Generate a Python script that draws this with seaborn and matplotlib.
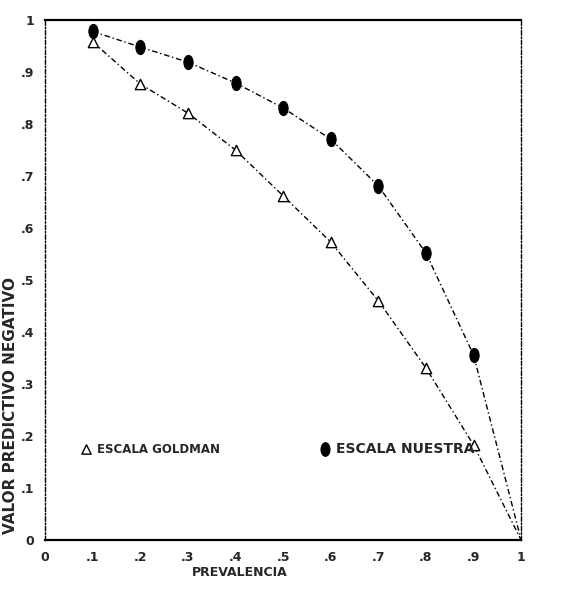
import numpy as np
import pandas as pd
import matplotlib
matplotlib.use("Agg")
import matplotlib.pyplot as plt
import seaborn as sns
from matplotlib.markers import MarkerStyle
from matplotlib.transforms import Affine2D

# data
prevalencia = [0.1, 0.2, 0.3, 0.4, 0.5, 0.6, 0.7, 0.8, 0.9, 1.0]
vpn_goldman = [0.958, 0.877, 0.821, 0.750, 0.662, 0.573, 0.460, 0.331, 0.183, 0.0]
vpn_nuestra = [0.978, 0.948, 0.919, 0.879, 0.831, 0.771, 0.681, 0.552, 0.356, 0.0]
x_ticks = [0, 0.1, 0.2, 0.3, 0.4, 0.5, 0.6, 0.7, 0.8, 0.9, 1.0]
tick_labels = ["0", ".1", ".2", ".3", ".4", ".5", ".6", ".7", ".8", ".9", "1"]

df = pd.DataFrame({
    "Prevalencia": prevalencia * 2,
    "VPN": vpn_goldman + vpn_nuestra,
    "Escala": ["Goldman"] * len(prevalencia) + ["Nuestra"] * len(prevalencia),
})

sns.set_style("white")
plt.rcParams["font.family"] = ["DejaVu Sans"]

fig = plt.figure(figsize=(5.64, 5.89), dpi=100)
ax = fig.add_axes([0.080, 0.083, 0.844, 0.883])

# dash-dot connecting lines
sns.lineplot(data=df, x="Prevalencia", y="VPN", hue="Escala",
             palette={"Goldman": "black", "Nuestra": "black"},
             legend=False, ax=ax, linewidth=1.0)
for ln in ax.get_lines():
    ln.set_dashes([4, 2, 1, 2])

# markers (last point at 1.0 has none)
gold = df[(df.Escala == "Goldman") & (df.Prevalencia < 1)]
nues = df[(df.Escala == "Nuestra") & (df.Prevalencia < 1)]
sns.scatterplot(data=gold, x="Prevalencia", y="VPN", marker="^", s=55,
                facecolor="white", edgecolor="black", linewidth=1.0, ax=ax, zorder=3)
sns.scatterplot(data=nues, x="Prevalencia", y="VPN", marker="o", s=80,
                color="black", edgecolor="black", ax=ax, zorder=3)
# tall ellipses like the original plotter dots
m = MarkerStyle("o")
tall = m.get_path().transformed(m.get_transform() + Affine2D().scale(0.75, 1.15))
ax.collections[-1].set_paths([tall])

ax.set_xlim(0, 1)
ax.set_ylim(0, 1)
ax.set_xticks(x_ticks)
ax.set_xticklabels(tick_labels, fontsize=9, fontweight="bold")
ax.set_yticks(x_ticks)
ax.set_yticklabels(tick_labels, fontsize=9, fontweight="bold")
ax.tick_params(axis="both", direction="in", length=4, width=0.8, color="black", pad=8)
ax.set_xlabel("")
ax.set_ylabel("")

for side in ["top", "bottom"]:
    ax.spines[side].set_linewidth(1.6)
    ax.spines[side].set_color("black")
for side in ["left", "right"]:
    ax.spines[side].set_linewidth(1.0)
    ax.spines[side].set_color("black")
    ax.spines[side].set_linestyle((0, (3, 1.5, 1, 1.5)))

fig.text(0.425, 0.028, "PREVALENCIA", fontsize=9, fontweight="bold",
         ha="center", va="center")
fig.text(0.018, 0.312, "VALOR PREDICTIVO NEGATIVO", fontsize=11, fontweight="bold",
         rotation=90, ha="center", va="center")

# in-plot legend
ax.scatter([0.085], [0.175], marker="^", s=45, facecolor="white", edgecolor="black", lw=1.0)
ax.text(0.11, 0.175, "ESCALA GOLDMAN", fontsize=8.5, fontweight="bold", va="center")
leg_dot = ax.scatter([0.588], [0.175], marker="o", s=70, color="black")
leg_dot.set_paths([tall])
ax.text(0.612, 0.175, "ESCALA NUESTRA", fontsize=10, fontweight="bold", va="center")

fig.savefig("out.png", dpi=100)
